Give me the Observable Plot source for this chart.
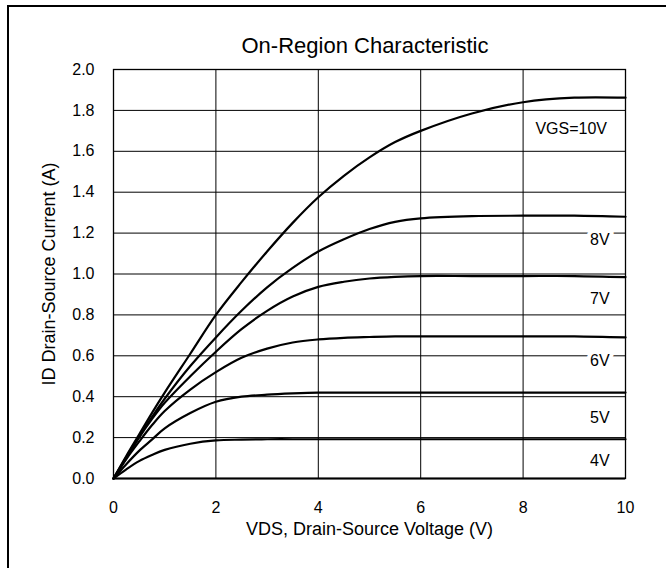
<!DOCTYPE html>
<html>
<head>
<meta charset="utf-8">
<script src="https://cdn.jsdelivr.net/npm/d3@7"></script>
<script src="https://cdn.jsdelivr.net/npm/@observablehq/plot@0.6"></script>
<style>
  body { margin: 0; background: #fff; font-family: "Liberation Sans", Arial, sans-serif; }
  #wrap { position: relative; width: 666px; height: 568px; overflow: hidden; background: #fff; }
  #border { position: absolute; left: 7px; top: 5px; width: 720px; height: 620px; border-left: 2px solid #000; border-top: 2px solid #000; }
  #title { position: absolute; left: 109px; width: 512px; top: 35px; text-align: center; font-size: 22px; line-height: 22px; color: #000; }
  #chart { position: absolute; left: 0; top: 0; }
</style>
</head>
<body>
<div id="wrap">
  <div id="border"></div>
  <div id="chart"></div>
  <div id="title">On-Region Characteristic</div>
</div>
<script>
const vds   = [0, 0.25, 0.5, 0.75, 1, 1.5, 2, 2.5, 3, 3.5, 4, 4.5, 5, 5.5, 6, 7, 8, 9, 10];
const id10V = [0, 0.11, 0.215, 0.32, 0.42, 0.61, 0.80, 0.96, 1.11, 1.25, 1.375, 1.48, 1.57, 1.645, 1.70, 1.785, 1.84, 1.862, 1.862];
const id8V  = [0, 0.105, 0.205, 0.30, 0.39, 0.55, 0.69, 0.82, 0.935, 1.03, 1.11, 1.17, 1.22, 1.255, 1.272, 1.283, 1.285, 1.285, 1.28];
const id7V  = [0, 0.10, 0.20, 0.29, 0.37, 0.50, 0.62, 0.73, 0.82, 0.89, 0.937, 0.962, 0.978, 0.986, 0.99, 0.99, 0.99, 0.99, 0.985];
const id6V  = [0, 0.095, 0.18, 0.26, 0.33, 0.435, 0.52, 0.59, 0.635, 0.665, 0.68, 0.688, 0.692, 0.695, 0.695, 0.695, 0.695, 0.695, 0.69];
const id5V  = [0, 0.07, 0.135, 0.19, 0.245, 0.32, 0.375, 0.40, 0.41, 0.416, 0.42, 0.42, 0.42, 0.42, 0.42, 0.42, 0.42, 0.42, 0.42];
const id4V  = [0, 0.045, 0.085, 0.115, 0.14, 0.17, 0.186, 0.19, 0.192, 0.192, 0.192, 0.192, 0.192, 0.192, 0.192, 0.192, 0.192, 0.192, 0.192];

const seriesNames = ["10V", "8V", "7V", "6V", "5V", "4V"];
const seriesValues = [id10V, id8V, id7V, id6V, id5V, id4V];

const labelText = ["VGS=10V", "8V", "7V", "6V", "5V", "4V"];
const labelX    = [8.94, 9.5, 9.5, 9.5, 9.5, 9.5];
const labelY    = [1.71, 1.165, 0.88, 0.575, 0.298, 0.086];

const xTicks = [0, 2, 4, 6, 8, 10];
const yTicks = [0, 0.2, 0.4, 0.6, 0.8, 1.0, 1.2, 1.4, 1.6, 1.8, 2.0];
const xGrid = [2, 4, 6, 8];
const yGrid = [0.2, 0.4, 0.6, 0.8, 1.0, 1.2, 1.4, 1.6, 1.8];

const xLabel = "VDS, Drain-Source Voltage (V)";
const yLabel = "ID Drain-Source Current (A)";

const rows = [];
seriesNames.forEach((name, i) => {
  vds.forEach((v, j) => rows.push({vgs: name, vds: v, id: seriesValues[i][j]}));
});
const labels = labelText.map((t, i) => ({text: t, x: labelX[i], y: labelY[i]}));

const font = '"Liberation Sans", Arial, sans-serif';

const chart = Plot.plot({
  width: 666,
  height: 568,
  marginLeft: 113,
  marginRight: 41,
  marginTop: 69,
  marginBottom: 90,
  style: { fontFamily: font, fontSize: "16px", color: "#000", background: "transparent", overflow: "visible" },
  x: { domain: [0, 10] },
  y: { domain: [0, 2] },
  marks: [
    Plot.ruleX(xGrid, { stroke: "#000", strokeWidth: 1 }),
    Plot.ruleY(yGrid, { stroke: "#000", strokeWidth: 1 }),
    Plot.frame({ stroke: "#000", strokeWidth: 1.3 }),
    Plot.ruleY([0], { stroke: "#000", strokeWidth: 2 }),
    Plot.axisX({ ticks: xTicks, tickSize: 0, tickPadding: 23, label: null, tickFormat: d => String(d), fontSize: 16 }),
    Plot.axisY({ ticks: yTicks, tickSize: 0, tickPadding: 19, label: null, tickFormat: d3.format(".1f"), fontSize: 16 }),
    Plot.line(rows, { x: "vds", y: "id", z: "vgs", stroke: "#000", strokeWidth: 2.2, curve: "catmull-rom" }),
    Plot.text(labels, { x: "x", y: "y", text: "text", fill: "#000", stroke: "#fff", strokeWidth: 8, paintOrder: "stroke", fontSize: 16 }),
    Plot.text([xLabel], { text: d => d, frameAnchor: "bottom", lineAnchor: "middle", dy: 51, fontSize: 18, fill: "#000" }),
    Plot.text([yLabel], { text: d => d, frameAnchor: "left", textAnchor: "middle", lineAnchor: "middle", rotate: -90, dx: -64, fontSize: 18, fill: "#000" })
  ]
});
document.getElementById("chart").appendChild(chart);
</script>
</body>
</html>
